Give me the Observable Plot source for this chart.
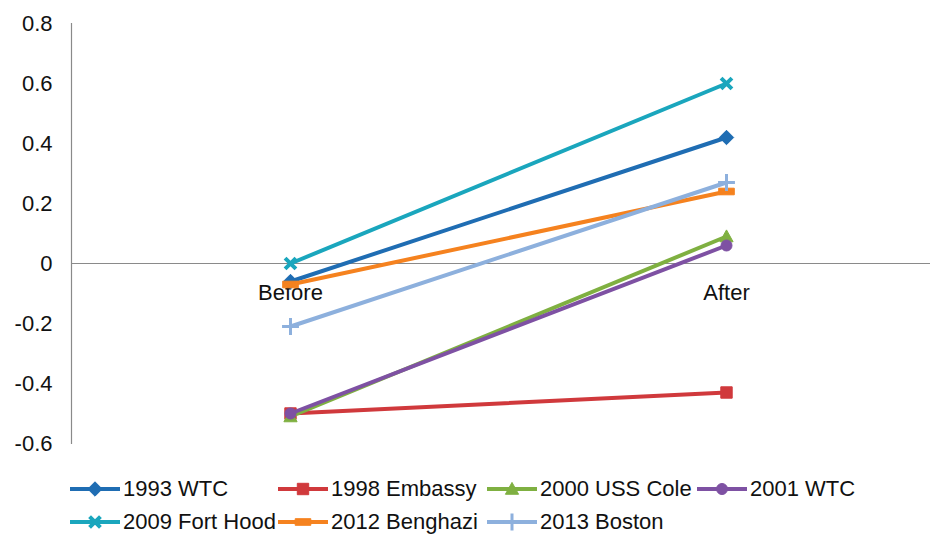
<!DOCTYPE html>
<html>
<head>
<meta charset="utf-8">
<script src="https://cdn.jsdelivr.net/npm/d3@7"></script>
<script src="https://cdn.jsdelivr.net/npm/@observablehq/plot@0.6"></script>
<style>
  html, body { margin: 0; padding: 0; background: #fff; }
  body { font-family: "Liberation Sans", Arial, sans-serif; }
  #legend { position: relative; width: 933px; height: 79px; }
  .item { position: absolute; display: flex; align-items: center; font-size: 22px; color: #111; white-space: nowrap; }
  .item svg { margin-right: 3px; }
</style>
</head>
<body>
<div id="chart"></div>
<div id="legend"></div>
<script>
// ---- data ----
const events = ["1993 WTC", "1998 Embassy", "2000 USS Cole", "2001 WTC", "2009 Fort Hood", "2012 Benghazi", "2013 Boston"];
const phases = ["Before", "After"];
const beforeValues = [-0.06, -0.50, -0.51, -0.50, 0.00, -0.07, -0.21];
const afterValues  = [0.42, -0.43, 0.09, 0.06, 0.60, 0.24, 0.27];
const colors = ["#1f6db3", "#d0393c", "#7fb041", "#7e51a3", "#1aa6bd", "#f5821f", "#8db0dd"];
const markerKinds = ["diamond", "square", "triangle", "circle", "times", "bar", "plus"];
const yTicks = [-0.6, -0.4, -0.2, 0, 0.2, 0.4, 0.6, 0.8];

const rows = [];
events.forEach((e, i) => {
  rows.push({event: e, phase: phases[0], value: beforeValues[i]});
  rows.push({event: e, phase: phases[1], value: afterValues[i]});
});

// custom symbols
const symDiamond = {draw(ctx, size) { const r = Math.sqrt(size / Math.PI) * 1.2; ctx.moveTo(0, -r); ctx.lineTo(r, 0); ctx.lineTo(0, r); ctx.lineTo(-r, 0); ctx.closePath(); }};
const symSquare = {draw(ctx, size) { const r = Math.sqrt(size / Math.PI) * 0.95; ctx.rect(-r, -r, 2 * r, 2 * r); }};
const symTriangle = {draw(ctx, size) { const r = Math.sqrt(size / Math.PI) * 1.1; ctx.moveTo(0, -r); ctx.lineTo(r, r * 0.8); ctx.lineTo(-r, r * 0.8); ctx.closePath(); }};
const symBar = {draw(ctx, size) { const r = Math.sqrt(size / Math.PI); ctx.rect(-r * 1.3, -r * 0.55, 2.6 * r, 1.1 * r); }};
function symbolFor(kind) {
  return {diamond: symDiamond, square: symSquare, triangle: symTriangle, circle: "circle", times: "times", bar: symBar, plus: "plus"}[kind];
}
function dotOpts(kind, color) {
  if (kind === "times") return {stroke: color, strokeWidth: 4, r: 5, fill: "none"};
  if (kind === "plus") return {stroke: color, strokeWidth: 3, r: 5.5, fill: "none"};
  if (kind === "circle") return {fill: color, stroke: color, strokeWidth: 1, r: 5.5};
  return {fill: color, stroke: color, strokeWidth: 1, r: 6};
}

const marks = [
  Plot.ruleY([0], {stroke: "#8a8a8a", strokeWidth: 1.2}),
  Plot.frame({anchor: "left", stroke: "#8a8a8a", strokeWidth: 1.2}),
  Plot.axisY({ticks: yTicks, tickSize: 0, tickPadding: 19, fontSize: 22, label: null, tickFormat: d => String(+d.toFixed(1))}),
  Plot.text(phases, {x: d => d, y: () => 0, dy: 29, fontSize: 22, fill: "#111"})
];
events.forEach((e, i) => {
  const sub = rows.filter(r => r.event === e);
  marks.push(Plot.line(sub, {x: "phase", y: "value", stroke: colors[i], strokeWidth: 4}));
  marks.push(Plot.dot(sub, {x: "phase", y: "value", symbol: symbolFor(markerKinds[i]), ...dotOpts(markerKinds[i], colors[i])}));
});

const chart = Plot.plot({
  width: 933,
  height: 460,
  marginTop: 23,
  marginBottom: 17,
  marginLeft: 71,
  marginRight: 3,
  style: {fontFamily: "'Liberation Sans', Arial, sans-serif", color: "#111", background: "#fff"},
  x: {type: "point", domain: phases, range: [290, 726], padding: 0, axis: null},
  y: {domain: [-0.6, 0.8], axis: null},
  marks
});
document.getElementById("chart").appendChild(chart);

// ---- legend ----
const legend = document.getElementById("legend");
const colX = [70, 278, 487, 697];
const rowY = [29, 62];
events.forEach((e, i) => {
  const col = i < 4 ? i : i - 4;
  const row = i < 4 ? 0 : 1;
  const div = document.createElement("div");
  div.className = "item";
  div.style.left = colX[col] + "px";
  div.style.top = (rowY[row] - 12) + "px";
  div.style.height = "24px";
  const svg = d3.create("svg").attr("width", 50).attr("height", 24);
  svg.append("line").attr("x1", 0).attr("x2", 50).attr("y1", 12).attr("y2", 12).attr("stroke", colors[i]).attr("stroke-width", 4);
  const kind = markerKinds[i];
  const sym = symbolFor(kind);
  const type = typeof sym === "string" ? {circle: d3.symbolCircle, times: d3.symbolTimes, plus: d3.symbolPlus}[sym] : sym;
  const o = dotOpts(kind, colors[i]);
  svg.append("path").attr("transform", "translate(25,12)")
    .attr("d", d3.symbol(type, o.r * o.r * Math.PI)())
    .attr("fill", o.fill).attr("stroke", o.stroke).attr("stroke-width", o.strokeWidth);
  div.appendChild(svg.node());
  const span = document.createElement("span");
  span.textContent = e;
  div.appendChild(span);
  legend.appendChild(div);
});
</script>
</body>
</html>
